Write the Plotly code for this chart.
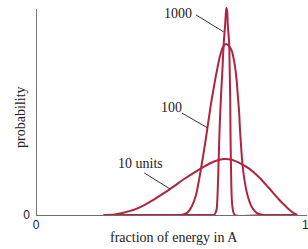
import plotly.graph_objects as go

# ---- data (x = fraction of energy in A, y = relative probability) ----
x_10 = [0.251, 0.292, 0.328, 0.365, 0.402, 0.439, 0.476, 0.513, 0.550, 0.587, 0.624, 0.661,
        0.697, 0.723, 0.753, 0.790, 0.827, 0.863, 0.900, 0.926, 0.948, 0.970]
y_10 = [0.000, 0.002, 0.012, 0.026, 0.048, 0.075, 0.106, 0.139, 0.173, 0.204, 0.233, 0.257,
        0.269, 0.267, 0.252, 0.224, 0.183, 0.132, 0.077, 0.043, 0.017, 0.000]

x_100 = [0.539, 0.561, 0.579, 0.594, 0.605, 0.616, 0.627, 0.638, 0.649, 0.661, 0.672, 0.683,
         0.694, 0.705, 0.716, 0.727, 0.736, 0.744, 0.749, 0.754, 0.757, 0.761, 0.766, 0.775,
         0.786, 0.801, 0.819, 0.845]
y_100 = [0.000, 0.010, 0.043, 0.096, 0.168, 0.250, 0.337, 0.433, 0.529, 0.620, 0.697, 0.764,
         0.808, 0.822, 0.813, 0.788, 0.736, 0.659, 0.577, 0.495, 0.418, 0.337, 0.250, 0.159,
         0.091, 0.038, 0.010, 0.000]

x_1000 = [0.251, 0.450, 0.657, 0.661, 0.670, 0.673, 0.677, 0.681, 0.686, 0.692, 0.697, 0.702,
          0.705, 0.707, 0.710, 0.712, 0.717, 0.719, 0.721, 0.722, 0.724, 0.727, 0.731, 0.738,
          0.850, 0.967]
y_1000 = [0.000, 0.000, 0.000, 0.000, 0.024, 0.072, 0.216, 0.394, 0.553, 0.697, 0.827, 0.913,
          0.976, 0.995, 0.976, 0.913, 0.827, 0.697, 0.553, 0.394, 0.216, 0.072, 0.024, 0.000,
          0.000, 0.000]

# curve labels: text, label position, leader start, leader end
labels = ["1000", "100", "10 units"]
label_x = [0.526, 0.502, 0.389]
label_y = [0.971, 0.519, 0.250]
lead_x0 = [0.594, 0.542, 0.402]
lead_y0 = [0.962, 0.490, 0.202]
lead_x1 = [0.697, 0.638, 0.498]
lead_y1 = [0.880, 0.418, 0.125]

x_ticks = [0, 1]
x_ticktext = ["0", "1"]
y_ticks = [0]
y_ticktext = ["0"]

CURVE = "#b1243f"
SERIF = "Liberation Serif"

fig = go.Figure()
for xs, ys in [(x_10, y_10), (x_100, y_100), (x_1000, y_1000)]:
    fig.add_trace(go.Scatter(x=xs, y=ys, mode="lines",
                             line=dict(color=CURVE, width=2, shape="spline", smoothing=0.8),
                             hoverinfo="skip", showlegend=False))

for t, lx, ly in zip(labels, label_x, label_y):
    fig.add_annotation(x=lx, y=ly, text=t, showarrow=False, xref="x", yref="y",
                       font=dict(family=SERIF, size=14, color="#222"))
for a, b, c, d in zip(lead_x0, lead_y0, lead_x1, lead_y1):
    fig.add_shape(type="line", x0=a, y0=b, x1=c, y1=d, xref="x", yref="y",
                  line=dict(color="#333", width=1))

# y axis line (stops a little below the top of the plot)
fig.add_shape(type="line", x0=0, x1=0, y0=0, y1=0.99, xref="x", yref="y",
              line=dict(color="#1a1a1a", width=1.2), layer="below")

fig.add_annotation(x=0.5, y=-0.105, xref="paper", yref="paper", text="fraction of energy in A",
                   showarrow=False, font=dict(family=SERIF, size=14, color="#222"),
                   xanchor="center", yanchor="middle", xshift=2)
fig.add_annotation(x=-0.06, y=0.466, xref="paper", yref="paper", text="probability",
                   showarrow=False, textangle=-90, font=dict(family=SERIF, size=14, color="#222"),
                   xanchor="center", yanchor="middle", xshift=0)

fig.update_layout(
    width=308, height=249,
    margin=dict(l=36, r=1, t=5, b=34, autoexpand=False),
    paper_bgcolor="white", plot_bgcolor="white",
    xaxis=dict(range=[0, 1.006], showgrid=False, zeroline=False, showline=True, automargin=False,
               linecolor="#6e6e6e", linewidth=1.2, tickvals=x_ticks, ticktext=x_ticktext,
               ticks="", ticklabeloverflow="allow", ticklabelstandoff=-2,
               tickfont=dict(family="Liberation Sans", size=12, color="#222")),
    yaxis=dict(range=[0, 1.0096], showgrid=False, zeroline=False, showline=False, automargin=False,
               tickvals=y_ticks, ticktext=y_ticktext, ticks="", ticklabelstandoff=5,
               tickfont=dict(family="Liberation Sans", size=12, color="#222")),
)

fig.write_html("out.html", config={"displayModeBar": False},
               post_script="document.body.style.margin='0';document.body.style.overflow='hidden';")
